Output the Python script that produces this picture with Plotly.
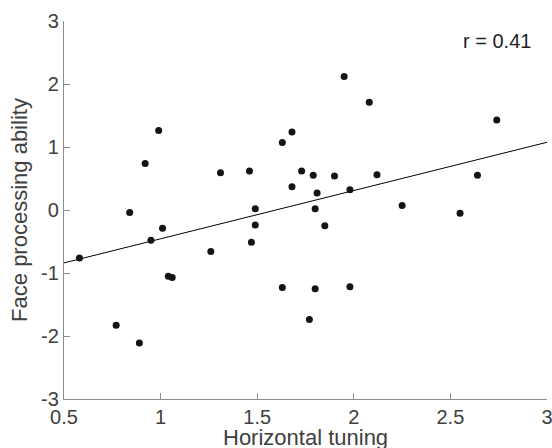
import plotly.graph_objects as go

# Scatter data: horizontal tuning vs face processing ability
horizontal_tuning = [0.58, 0.77, 0.89, 0.95, 1.01, 1.04, 1.06, 0.84, 0.92, 0.99,
                     1.31, 1.46, 1.63, 1.68, 1.73, 1.79, 1.68, 1.81, 1.90, 1.98,
                     2.12, 1.95, 2.08, 1.49, 1.80, 1.49, 1.85, 2.25, 2.74, 2.64,
                     2.55, 1.26, 1.47, 1.63, 1.80, 1.98, 1.77]
face_ability = [-0.76, -1.83, -2.11, -0.48, -0.29, -1.05, -1.07, -0.04, 0.74, 1.26,
                0.59, 0.62, 1.07, 1.24, 0.62, 0.55, 0.37, 0.27, 0.54, 0.32,
                0.56, 2.12, 1.71, 0.02, 0.02, -0.24, -0.25, 0.07, 1.43, 0.55,
                -0.05, -0.66, -0.51, -1.23, -1.25, -1.22, -1.74]

# Regression line end points
fit_x = [0.5, 3.0]
fit_y = [-0.84, 1.075]

x_ticks = [0.5, 1, 1.5, 2, 2.5, 3]
x_ticklabels = ["0.5", "1", "1.5", "2", "2.5", "3"]
y_ticks = [-3, -2, -1, 0, 1, 2, 3]
y_ticklabels = ["-3", "-2", "-1", "0", "1", "2", "3"]

x_title = "Horizontal tuning"
y_title = "Face processing ability"
r_label = "r = 0.41"

FONT = "Liberation Sans, Arial, Helvetica, sans-serif"
AXIS_GREY = "#8c8c8c"
TEXT_GREY = "#404040"

fig = go.Figure()
fig.add_trace(go.Scatter(x=fit_x, y=fit_y, mode="lines",
                         line=dict(color="black", width=1), showlegend=False,
                         hoverinfo="skip"))
fig.add_trace(go.Scatter(x=horizontal_tuning, y=face_ability, mode="markers",
                         marker=dict(color="#141414", size=7), showlegend=False))

fig.add_annotation(x=2.93, y=2.68, xref="x", yref="y", text=r_label,
                   showarrow=False, xanchor="right", yanchor="middle",
                   font=dict(family=FONT, size=20, color="#222222"))

# x-axis title placed as a paper-referenced annotation just below tick labels
fig.add_annotation(x=0.5, y=-0.103, xref="paper", yref="paper", text=x_title,
                   showarrow=False, xanchor="center", yanchor="middle",
                   font=dict(family=FONT, size=22, color=TEXT_GREY))

axis_common = dict(showline=True, linecolor=AXIS_GREY, linewidth=1.3,
                   mirror=False, ticks="inside", ticklen=6, tickcolor=AXIS_GREY,
                   tickwidth=1, showgrid=False, zeroline=False,
                   ticklabeloverflow="allow",
                   tickfont=dict(family=FONT, size=20, color=TEXT_GREY))

fig.update_xaxes(range=[0.5, 3], tickvals=x_ticks, ticktext=x_ticklabels,
                 **axis_common)
fig.update_yaxes(range=[-3, 3], tickvals=y_ticks, ticktext=y_ticklabels,
                 title=dict(text=y_title, standoff=7,
                            font=dict(family=FONT, size=22, color=TEXT_GREY)),
                 **axis_common)

fig.update_layout(width=552, height=448,
                  margin=dict(l=64, r=5, t=21, b=49, autoexpand=False),
                  plot_bgcolor="white", paper_bgcolor="white",
                  font=dict(family=FONT))

fig.write_html("out.html", config={"displayModeBar": False},
               post_script="document.body.style.margin='0';document.body.style.padding='0';")
